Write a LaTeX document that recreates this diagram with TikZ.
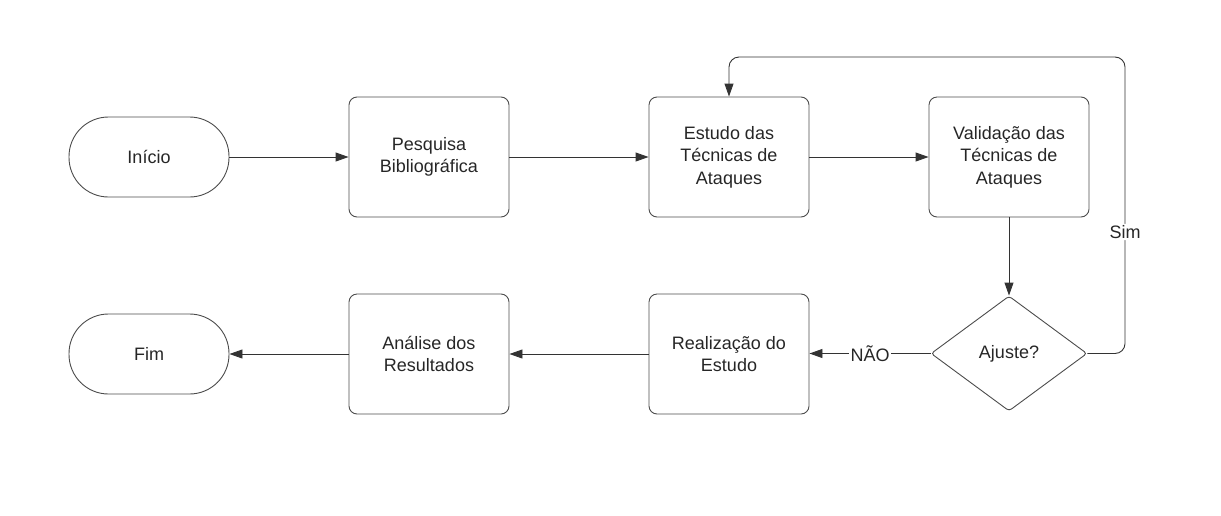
\documentclass[tikz,border=0pt]{standalone}
\usepackage{fontspec}
\setmainfont{Liberation Sans}
\usetikzlibrary{arrows.meta,shapes.geometric}
\begin{document}
\begin{tikzpicture}[x=1pt,y=-1pt,
  every node/.style={font=\fontsize{18}{22.5}\selectfont, text=black!85},
  procbox/.style={draw=black!70, line width=0.9pt, rounded corners=8pt, minimum width=160pt, minimum height=120pt, align=center, inner sep=0pt},
  termbox/.style={draw=black!70, line width=0.9pt, rounded corners=39.5pt, minimum width=160pt, minimum height=80pt, align=center, inner sep=0pt},
  decbox/.style={draw=black!70, line width=0.9pt, diamond, rounded corners=3pt, minimum width=156pt, minimum height=115pt, inner sep=0pt},
  conn/.style={draw=black!80, line width=0.9pt, -{Triangle[length=13pt,width=9pt]}},
  lbl/.style={fill=white, inner sep=1.5pt}
]
\useasboundingbox (0,0) rectangle (1221,515);
\node[termbox] (inicio) at (149,157) {Início};
\node[procbox] (pesq) at (429,157) {Pesquisa\\Bibliográfica};
\node[procbox] (estudo) at (729,157) {Estudo das\\Técnicas de\\Ataques};
\node[procbox] (valid) at (1009,157) {Validação das\\Técnicas de\\Ataques};
\node[decbox] (ajuste) at (1009,353.5) {Ajuste?};
\node[procbox] (realiz) at (729,354) {Realização do\\Estudo};
\node[procbox] (anal) at (429,354) {Análise dos\\Resultados};
\node[termbox] (fim) at (149,354) {Fim};
\coordinate (c1) at (1125,353.5);
\coordinate (c2) at (1125,57);
\coordinate (c3) at (729,57);

\draw[conn] (inicio) -- (pesq);
\draw[conn] (pesq) -- (estudo);
\draw[conn] (estudo) -- (valid);
\draw[conn] (valid) -- (ajuste);
\draw[conn] (ajuste.west) -- node[lbl] (nao) {NÃO} (realiz.east |- ajuste.west);
\draw[conn] (realiz) -- (anal);
\draw[conn] (anal) -- (fim);
\draw[conn, rounded corners=10pt] (ajuste.east) -- (c1) -- node[lbl, pos=0.41] (sim) {Sim} (c2) -- (c3) -- (estudo.north);
\end{tikzpicture}
\end{document}
